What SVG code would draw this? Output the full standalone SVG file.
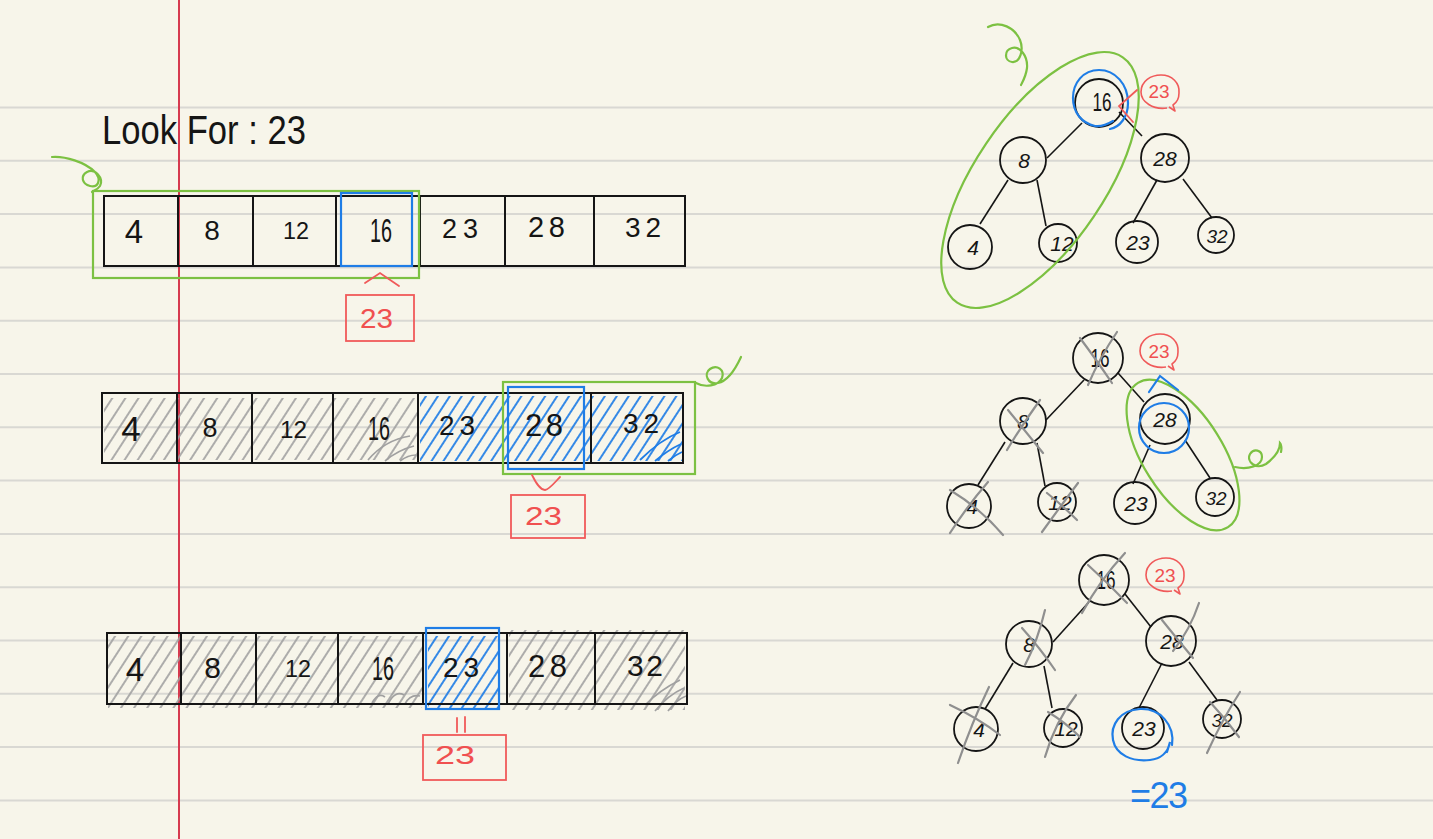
<svg xmlns="http://www.w3.org/2000/svg" xmlns:xlink="http://www.w3.org/1999/xlink" width="1433" height="839" viewBox="0 0 1433 839">
<defs>
<style>
.rule{stroke:#d9d8d3;stroke-width:2}
.cell{fill:none;stroke:#151515;stroke-width:2}
.d{font-family:"Liberation Sans",Arial,sans-serif;fill:#151515}
.tn{font-family:"Liberation Sans",Arial,sans-serif;fill:#151515;font-size:21px;font-style:italic;text-anchor:middle}
.tr{font-family:"Liberation Sans",Arial,sans-serif;fill:#151515;font-size:25px;text-anchor:middle}
.node{fill:none;stroke:#151515;stroke-width:1.8}
.edge{stroke:#151515;stroke-width:1.6;fill:none}
.green{fill:none;stroke:#7cc142;stroke-width:2.2;stroke-linecap:round}
.blue{fill:none;stroke:#1f7de6;stroke-width:2.2;stroke-linecap:round}
.red{fill:none;stroke:#f05a5a;stroke-width:1.8;stroke-linecap:round}
.rt{font-family:"Liberation Sans",Arial,sans-serif;fill:#f05050}
.x{fill:none;stroke:#8f8f8f;stroke-width:2.2;stroke-linecap:round}
</style>
<pattern id="hg" patternUnits="userSpaceOnUse" width="11" height="10" patternTransform="rotate(33)">
<line x1="3" y1="0" x2="3" y2="10" stroke="#a0a0a0" stroke-width="1.7"/>
</pattern>
<pattern id="hb" patternUnits="userSpaceOnUse" width="10" height="10" patternTransform="rotate(33)">
<line x1="3" y1="0" x2="3" y2="10" stroke="#1f7de6" stroke-width="1.8"/>
</pattern>
<path id="bub" d="M7,16 C-7,18 -19,10 -19,0 C-19,-11 -9,-17 1,-17 C12,-17 20,-9 19,1 C19,7 16,11 13,13 L15,19 L9,15" fill="none" stroke="#f05a5a" stroke-width="1.6" stroke-linejoin="round"/>
</defs>

<rect width="1433" height="839" fill="#f7f5ea"/>

<g id="ruling">
<line class="rule" x1="0" y1="107.5" x2="1433" y2="107.5"/>
<line class="rule" x1="0" y1="160.8" x2="1433" y2="160.8"/>
<line class="rule" x1="0" y1="214.1" x2="1433" y2="214.1"/>
<line class="rule" x1="0" y1="267.4" x2="1433" y2="267.4"/>
<line class="rule" x1="0" y1="320.7" x2="1433" y2="320.7"/>
<line class="rule" x1="0" y1="374" x2="1433" y2="374"/>
<line class="rule" x1="0" y1="427.3" x2="1433" y2="427.3"/>
<line class="rule" x1="0" y1="480.6" x2="1433" y2="480.6"/>
<line class="rule" x1="0" y1="533.9" x2="1433" y2="533.9"/>
<line class="rule" x1="0" y1="587.2" x2="1433" y2="587.2"/>
<line class="rule" x1="0" y1="640.5" x2="1433" y2="640.5"/>
<line class="rule" x1="0" y1="693.8" x2="1433" y2="693.8"/>
<line class="rule" x1="0" y1="747.1" x2="1433" y2="747.1"/>
<line class="rule" x1="0" y1="800.4" x2="1433" y2="800.4"/>
</g>
<line id="margin" x1="179" y1="0" x2="179" y2="839" stroke="#d63a4f" stroke-width="2"/>

<text id="title" class="d" x="102" y="144" font-size="40" textLength="204" lengthAdjust="spacingAndGlyphs">Look For : 23</text>

<!-- Array 1 -->
<g id="array1">
<g id="a1-4"><rect class="cell" x="104" y="196" width="74" height="70"/><text class="d" x="134" y="243" font-size="33" text-anchor="middle">4</text></g>
<g id="a1-8"><rect class="cell" x="178" y="196" width="75" height="70"/><text class="d" x="212" y="240" font-size="28" text-anchor="middle">8</text></g>
<g id="a1-12"><rect class="cell" x="253" y="196" width="83" height="70"/><text class="d" x="283" y="239" font-size="24" textLength="26" lengthAdjust="spacingAndGlyphs">12</text></g>
<g id="a1-16"><rect class="cell" x="336" y="196" width="84" height="70"/><text class="d" x="370" y="242" font-size="33" textLength="22" lengthAdjust="spacingAndGlyphs">16</text></g>
<g id="a1-23"><rect class="cell" x="420" y="196" width="85" height="70"/><text class="d" x="442" y="238" font-size="27" textLength="36">23</text></g>
<g id="a1-28"><rect class="cell" x="505" y="196" width="89" height="70"/><text class="d" x="528" y="237" font-size="29" textLength="37">28</text></g>
<g id="a1-32"><rect class="cell" x="594" y="196" width="91" height="70"/><text class="d" x="625" y="237" font-size="28" textLength="36">32</text></g>
<rect class="green" x="93" y="191" width="326" height="87"/>
<path class="green" d="M52,157 C65,156 85,162 95,172 C102,180 98,188 90,186 C82,184 80,176 87,172 C95,168 104,178 100,186 C98,189 95,190 92,192"/>
<rect class="blue" x="341" y="193" width="71" height="73"/>
<path class="red" d="M365,283 L380,273 L399,286"/>
<rect class="red" x="346" y="295" width="68" height="46"/>
<text class="rt" x="360" y="328" font-size="28" textLength="33" lengthAdjust="spacingAndGlyphs">23</text>
</g>

<!-- Array 2 -->
<g id="array2">
<rect x="104" y="398" width="313" height="62" fill="url(#hg)"/>
<rect x="420" y="396" width="262" height="65" fill="url(#hb)"/>
<path d="M368,460 Q385,440 410,436 M385,461 Q398,450 414,446 M400,461 Q408,455 416,455" stroke="#a0a0a0" stroke-width="1.7" fill="none"/>
<path d="M640,460 Q660,440 680,432 M655,461 Q668,450 681,444 M668,461 Q675,455 682,452" stroke="#1f7de6" stroke-width="1.8" fill="none"/>
<g id="a2-4"><rect class="cell" x="102" y="393" width="75" height="70"/><text class="d" x="131" y="441" font-size="35" text-anchor="middle">4</text></g>
<g id="a2-8"><rect class="cell" x="177" y="393" width="75" height="70"/><text class="d" x="210" y="437" font-size="27" text-anchor="middle">8</text></g>
<g id="a2-12"><rect class="cell" x="252" y="393" width="81" height="70"/><text class="d" x="280" y="438" font-size="24" textLength="27" lengthAdjust="spacingAndGlyphs">12</text></g>
<g id="a2-16"><rect class="cell" x="333" y="393" width="85" height="70"/><text class="d" x="368" y="440" font-size="33" textLength="22" lengthAdjust="spacingAndGlyphs">16</text></g>
<g id="a2-23"><rect class="cell" x="418" y="393" width="85" height="70"/><text class="d" x="439" y="435" font-size="28" textLength="36">23</text></g>
<g id="a2-28"><rect class="cell" x="503" y="393" width="88" height="70"/><text class="d" x="525" y="436" font-size="31" textLength="38">28</text></g>
<g id="a2-32"><rect class="cell" x="591" y="393" width="92" height="70"/><text class="d" x="623" y="433" font-size="28" textLength="36">32</text></g>
<rect class="green" x="503" y="382" width="192" height="92"/>
<path class="green" d="M696,383 C705,388 718,386 722,378 C725,370 717,364 710,369 C703,374 708,385 718,383 C728,381 735,370 741,357"/>
<rect class="blue" x="508" y="387" width="76" height="82"/>
<path class="red" d="M532,475 C536,483 540,490 545,490 C550,489 555,482 560,477"/>
<rect class="red" x="511" y="495" width="74" height="43"/>
<text class="rt" x="525" y="525" font-size="26" textLength="37" lengthAdjust="spacingAndGlyphs">23</text>
</g>

<!-- Array 3 -->
<g id="array3">
<rect x="108" y="636" width="314" height="72" fill="url(#hg)"/>
<rect x="509" y="630" width="176" height="80" fill="url(#hg)"/>
<rect x="428" y="636" width="70" height="72" fill="url(#hb)"/>
<path d="M372,703 Q378,692 385,697 M388,704 Q395,690 404,695 M405,704 Q410,694 420,696" stroke="#a0a0a0" stroke-width="1.7" fill="none"/>
<path d="M645,705 Q660,690 680,680 M655,711 Q668,695 684,688 M668,711 Q676,700 686,696" stroke="#a0a0a0" stroke-width="1.7" fill="none"/>
<g id="a3-4"><rect class="cell" x="107" y="633" width="74" height="71"/><text class="d" x="135" y="681" font-size="33" text-anchor="middle">4</text></g>
<g id="a3-8"><rect class="cell" x="181" y="633" width="75" height="71"/><text class="d" x="212.5" y="678" font-size="30" text-anchor="middle">8</text></g>
<g id="a3-12"><rect class="cell" x="256" y="633" width="82" height="71"/><text class="d" x="285" y="677" font-size="24" textLength="26" lengthAdjust="spacingAndGlyphs">12</text></g>
<g id="a3-16"><rect class="cell" x="338" y="633" width="85" height="71"/><text class="d" x="372" y="680" font-size="33" textLength="22" lengthAdjust="spacingAndGlyphs">16</text></g>
<g id="a3-23"><rect class="cell" x="423" y="633" width="84" height="71"/><text class="d" x="443" y="677" font-size="28" textLength="36">23</text></g>
<g id="a3-28"><rect class="cell" x="507" y="633" width="88" height="71"/><text class="d" x="528" y="677" font-size="31" textLength="39">28</text></g>
<g id="a3-32"><rect class="cell" x="595" y="633" width="92" height="71"/><text class="d" x="627" y="676" font-size="30" textLength="36">32</text></g>
<rect class="blue" x="426" y="628" width="73" height="81"/>
<path class="red" d="M457,718 L457,732 M465,717 L465,732"/>
<rect class="red" x="423" y="735" width="83" height="45"/>
<text class="rt" x="435" y="764" font-size="26" textLength="40" lengthAdjust="spacingAndGlyphs">23</text>
</g>

<!-- Tree connectors -->
<g id="connectors">
<line class="edge" x1="1082" y1="123" x2="1047" y2="158"/>
<line class="edge" x1="1119" y1="112" x2="1142" y2="136"/>
<line class="edge" x1="1008" y1="180" x2="980" y2="224"/>
<line class="edge" x1="1037" y1="180" x2="1046" y2="226"/>
<line class="edge" x1="1157" y1="180" x2="1133" y2="223"/>
<line class="edge" x1="1183" y1="179" x2="1212" y2="218"/>

<line class="edge" x1="1084" y1="380" x2="1046" y2="420"/>
<line class="edge" x1="1118" y1="373" x2="1144" y2="402"/>
<line class="edge" x1="1005" y1="442" x2="978" y2="485"/>
<line class="edge" x1="1037" y1="443" x2="1045" y2="486"/>
<line class="edge" x1="1150" y1="445" x2="1133" y2="484"/>
<line class="edge" x1="1185" y1="440" x2="1210" y2="478"/>

<line class="edge" x1="1089" y1="602" x2="1053" y2="642"/>
<line class="edge" x1="1125" y1="594" x2="1151" y2="627"/>
<line class="edge" x1="1013" y1="663" x2="985" y2="709"/>
<line class="edge" x1="1044" y1="666" x2="1052" y2="708"/>
<line class="edge" x1="1162" y1="663" x2="1139" y2="708"/>
<line class="edge" x1="1189" y1="662" x2="1217" y2="700"/>
</g>

<!-- Tree 1 -->
<g id="tree1">
<g id="t1-16"><circle class="node" cx="1099" cy="103" r="24"/><text class="tr" x="1102" y="111" textLength="19" lengthAdjust="spacingAndGlyphs">16</text></g>
<g id="t1-8"><circle class="node" cx="1023" cy="160" r="23"/><text class="tn" x="1024" y="168">8</text></g>
<g id="t1-28"><circle class="node" cx="1165" cy="158" r="24"/><text class="tn" x="1165" y="166">28</text></g>
<g id="t1-4"><circle class="node" cx="970" cy="247" r="22"/><text class="tn" x="973" y="255">4</text></g>
<g id="t1-12"><circle class="node" cx="1058" cy="243" r="19"/><text class="tn" x="1062" y="251">12</text></g>
<g id="t1-23"><circle class="node" cx="1137" cy="242" r="21"/><text class="tn" x="1138" y="250">23</text></g>
<g id="t1-32"><circle class="node" cx="1216" cy="235" r="18"/><text class="tn" x="1217" y="243" style="font-size:19px">32</text></g>
<ellipse class="green" cx="1040" cy="180" rx="148" ry="65" transform="rotate(-56 1040 180)"/>
<path class="green" d="M988,27 C1000,20 1015,28 1020,40 C1024,50 1020,63 1012,62 C1004,61 1004,50 1012,48 C1020,46 1028,56 1027,68 C1026,76 1023,81 1021,85"/>
<path class="blue" d="M1110,129 C1120,127 1128,117 1128,103 C1128,84 1115,70 1099,70 C1083,70 1073,83 1073,98 C1073,113 1082,123 1095,126 C1102,127 1108,124 1113,121"/>
<path class="red" d="M1137,90 L1119,106 L1133,122"/>
<use xlink:href="#bub" href="#bub" transform="translate(1160,92)"/>
<text class="rt" x="1159" y="98" font-size="19" text-anchor="middle">23</text>
</g>

<!-- Tree 2 -->
<g id="tree2">
<g id="t2-16"><circle class="node" cx="1098" cy="358" r="25"/><text class="tr" x="1100" y="367" textLength="19" lengthAdjust="spacingAndGlyphs">16</text></g>
<g id="t2-8"><circle class="node" cx="1023" cy="421" r="23"/><text class="tn" x="1023" y="429">8</text></g>
<g id="t2-28"><circle class="node" cx="1165" cy="419" r="25"/><text class="tn" x="1165" y="427">28</text></g>
<g id="t2-4"><circle class="node" cx="969" cy="506" r="22"/><text class="tn" x="972" y="514">4</text></g>
<g id="t2-12"><circle class="node" cx="1057" cy="502" r="19"/><text class="tn" x="1060" y="510">12</text></g>
<g id="t2-23"><circle class="node" cx="1135" cy="503" r="21"/><text class="tn" x="1136" y="511">23</text></g>
<g id="t2-32"><circle class="node" cx="1215" cy="497" r="19"/><text class="tn" x="1216" y="505" style="font-size:19px">32</text></g>
<path class="x" d="M1080,338 Q1095,358 1112,383 M1117,332 Q1100,357 1088,385"/>
<path class="x" d="M1040,400 Q1022,425 1007,450 M1008,410 Q1026,432 1043,453"/>
<path class="x" d="M988,482 Q968,505 950,533 M950,490 Q980,508 1003,535"/>
<path class="x" d="M1078,483 Q1060,507 1042,532 M1047,493 Q1062,505 1077,520"/>
<ellipse class="green" cx="1183" cy="455" rx="85" ry="40" transform="rotate(58 1183 455)"/>
<path class="green" d="M1235,467 C1248,470 1262,466 1262,457 C1262,450 1254,448 1250,454 C1246,462 1256,470 1266,464 C1274,458 1280,450 1280,443 C1281,444 1282,448 1281,452"/>
<circle class="blue" cx="1164" cy="428" r="25"/>
<path class="blue" d="M1149,392 L1160,376 L1178,390"/>
<use xlink:href="#bub" href="#bub" transform="translate(1159,351)"/>
<text class="rt" x="1159" y="358" font-size="19" text-anchor="middle">23</text>
</g>

<!-- Tree 3 -->
<g id="tree3">
<g id="t3-16"><circle class="node" cx="1104" cy="580" r="25"/><text class="tr" x="1106" y="589" textLength="19" lengthAdjust="spacingAndGlyphs">16</text></g>
<g id="t3-8"><circle class="node" cx="1029" cy="644" r="23"/><text class="tn" x="1029" y="652">8</text></g>
<g id="t3-28"><circle class="node" cx="1171" cy="641" r="25"/><text class="tn" x="1172" y="649">28</text></g>
<g id="t3-4"><circle class="node" cx="976" cy="729" r="22"/><text class="tn" x="979" y="737">4</text></g>
<g id="t3-12"><circle class="node" cx="1063" cy="728" r="19"/><text class="tn" x="1066" y="736">12</text></g>
<g id="t3-23"><circle class="node" cx="1143" cy="728" r="21"/><text class="tn" x="1144" y="736">23</text></g>
<g id="t3-32"><circle class="node" cx="1222" cy="719" r="19"/><text class="tn" x="1222" y="727" style="font-size:19px">32</text></g>
<path class="x" d="M1125,553 Q1100,580 1082,613 M1088,565 Q1108,583 1127,603"/>
<path class="x" d="M1045,610 Q1038,640 1025,665 M1022,628 Q1040,648 1055,670"/>
<path class="x" d="M1199,603 Q1190,630 1173,651 M1162,620 Q1178,640 1193,658"/>
<path class="x" d="M989,687 Q972,722 958,763 M950,705 Q978,718 1000,735"/>
<path class="x" d="M1076,695 Q1055,722 1045,757 M1048,712 Q1065,722 1080,737"/>
<path class="x" d="M1240,692 Q1222,720 1207,753 M1210,702 Q1225,718 1239,737"/>
<path class="blue" d="M1172,745 C1175,725 1160,708 1140,709 C1120,710 1110,725 1113,740 C1116,755 1132,762 1150,760 C1160,759 1168,753 1170,742 L1167,752"/>
<use xlink:href="#bub" href="#bub" transform="translate(1165,575)"/>
<text class="rt" x="1165" y="582" font-size="19" text-anchor="middle">23</text>
<text x="1130" y="808" font-family="Liberation Sans, Arial, sans-serif" font-size="36" fill="#1f7de6" textLength="58">=23</text>
</g>
</svg>
